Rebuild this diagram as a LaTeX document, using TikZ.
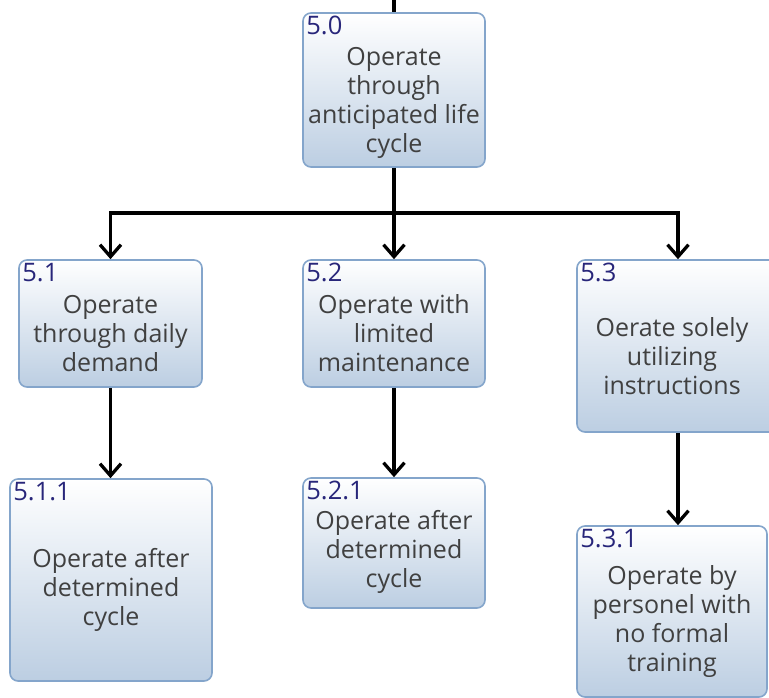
\documentclass[tikz,border=0pt]{standalone}
\usepackage{fontspec}
\setmainfont{Open Sans}
\usetikzlibrary{arrows.meta}

\definecolor{boxedge}{RGB}{132,165,203}
\definecolor{boxtop}{RGB}{255,255,255}
\definecolor{boxbottom}{RGB}{188,206,226}
\definecolor{idblue}{RGB}{40,38,122}
\definecolor{bodytext}{RGB}{64,64,64}

\tikzset{
  taskbox/.style={draw=boxedge, line width=1.6pt, rounded corners=8pt,
    top color=boxtop, bottom color=boxbottom, inner sep=0pt},
  tasktext/.style={align=center, text=bodytext, inner sep=0pt,
    font=\fontsize{25}{29}\selectfont},
  taskid/.style={anchor=north west, text=idblue, inner sep=0pt,
    font=\fontsize{25.5}{29}\selectfont},
  link/.style={line width=3.3pt, black},
  arrowlink/.style={link, -{Straight Barb[length=12pt,width=21pt,line width=3.3pt]}},
}

\begin{document}
\begin{tikzpicture}[x=1pt, y=-1pt]
\useasboundingbox (0,0) rectangle (769,698);

% boxes
\node[taskbox, minimum width=182pt, minimum height=154pt] (n50)  at (394,90)    {};
\node[taskbox, minimum width=183pt, minimum height=127pt] (n51)  at (110.5,323.5) {};
\node[taskbox, minimum width=182pt, minimum height=127pt] (n52)  at (394,323.5) {};
\node[taskbox, minimum width=202pt, minimum height=172pt] (n53)  at (678,346)   {};
\node[taskbox, minimum width=202pt, minimum height=202pt] (n511) at (111,580)   {};
\node[taskbox, minimum width=182pt, minimum height=130pt] (n521) at (394,543)   {};
\node[taskbox, minimum width=190pt, minimum height=171pt] (n531) at (672,611.5) {};

% identifiers
\node[taskid] (id50)  at ([xshift=4pt,yshift=-4pt]n50.north west)  {5.0};
\node[taskid] (id51)  at ([xshift=4pt,yshift=-4pt]n51.north west)  {5.1};
\node[taskid] (id52)  at ([xshift=4pt,yshift=-4pt]n52.north west)  {5.2};
\node[taskid] (id53)  at ([xshift=4pt,yshift=-4pt]n53.north west)  {5.3};
\node[taskid] (id511) at ([xshift=4pt,yshift=-4pt]n511.north west) {5.1.1};
\node[taskid] (id521) at ([xshift=4pt,yshift=-4pt]n521.north west) {5.2.1};
\node[taskid] (id531) at ([xshift=4pt,yshift=-4pt]n531.north west) {5.3.1};

% descriptions
\node[tasktext] (t50)  at ([yshift=-13pt]n50.center)  {Operate\\through\\anticipated life\\cycle};
\node[tasktext] (t51)  at ([yshift=-10pt]n51.center)  {Operate\\through daily\\demand};
\node[tasktext] (t52)  at ([yshift=-10pt]n52.center)  {Operate with\\limited\\maintenance};
\node[tasktext] (t53)  at ([xshift=-6pt,yshift=-10pt]n53.center)  {Oerate solely\\utilizing\\instructions};
\node[tasktext] (t511) at ([yshift=-10pt]n511.center) {Operate after\\determined\\cycle};
\node[tasktext] (t521) at ([yshift=-9pt]n521.center)  {Operate after\\determined\\cycle};
\node[tasktext] (t531) at ([yshift=-10pt]n531.center) {Operate by\\personel with\\no formal\\training};

% connectors
\coordinate (entry) at (394,0);
\coordinate (bus) at (394,213);
\draw[link] (entry) -- (n50.north);
\draw[arrowlink] (n50.south) -- (bus) -| (n51.north);
\draw[arrowlink] (bus) -- (n52.north);
\draw[arrowlink] (bus) -| (n53.north);
\draw[arrowlink] (n51.south) -- (n51.south |- n511.north);
\draw[arrowlink] (n52.south) -- (n52.south |- n521.north);
\draw[arrowlink] (n53.south) -- (n53.south |- n531.north);
\end{tikzpicture}
\end{document}
